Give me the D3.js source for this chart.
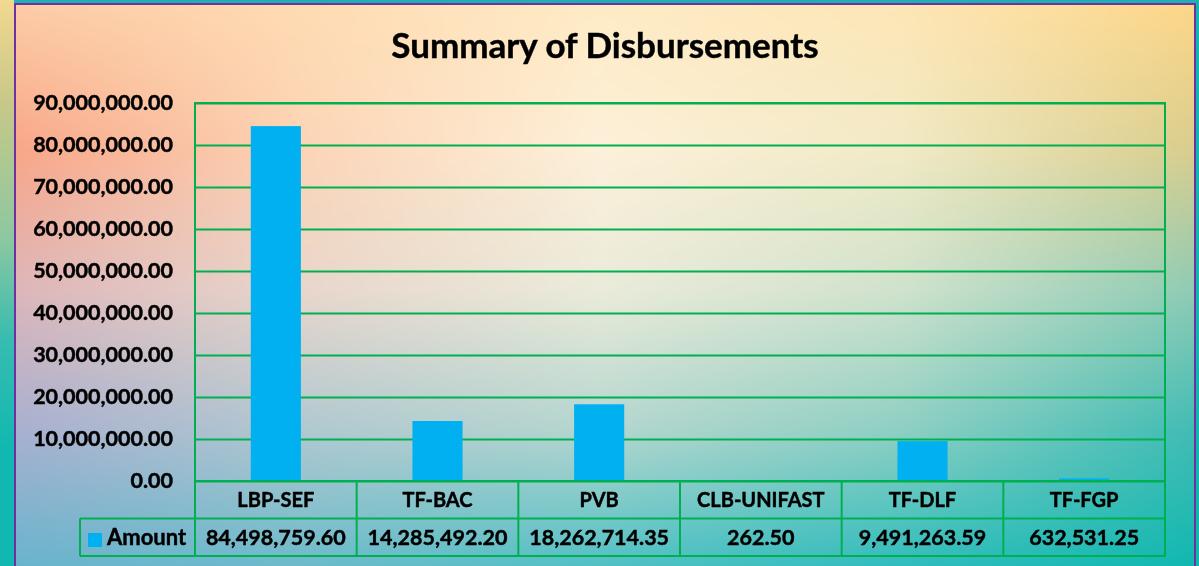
<!DOCTYPE html>
<html>
<head>
<meta charset="utf-8">
<script src="https://cdn.jsdelivr.net/npm/d3@7"></script>
<style>
  body { margin: 0; overflow: hidden; }
  #wrap { position: relative; width: 1199px; height: 566px; }
  #bg, #chart svg { position: absolute; left: 0; top: 0; }
  #chart text { stroke: #000; stroke-width: 0.45px; }
</style>
</head>
<body>
<div id="wrap">
  <canvas id="bg" width="1199" height="566"></canvas>
  <div id="chart"></div>
</div>
<script>
///////////////
// data      //
///////////////

const categories = ["LBP-SEF", "TF-BAC", "PVB", "CLB-UNIFAST", "TF-DLF", "TF-FGP"];
const amounts = [84498759.60, 14285492.20, 18262714.35, 262.50, 9491263.59, 632531.25];
const seriesName = "Amount";
const chartTitle = "Summary of Disbursements";
const yTickValues = [0, 10000000, 20000000, 30000000, 40000000, 50000000, 60000000, 70000000, 80000000, 90000000];

///////////////
// constants //
///////////////

const chartWidth = 1199;
const chartHeight = 566;

const plotLeft = 195;
const plotRight = 1165;
const plotTop = 103;
const plotBottom = 481;
const rowHeight = 37.5;
const legendLeft = 80;

const green = "#00B050";
const barColor = "#00B0F0";
const purple = "#7030A0";
const fontFamily = "Lato, 'Open Sans', sans-serif";

const fmt = d3.format(",.2f");

var xScale = d3.scaleBand()
             .domain(categories)
             .range([plotLeft, plotRight])
             .padding(0);

var yScale = d3.scaleLinear()
             .domain([0, 90000000])
             .range([plotBottom, plotTop]);

const barWidth = xScale.bandwidth() * 0.31;

////////////////
// draw image //
////////////////

drawBackground();

var svg = d3.select("#chart").append("svg")
            .attr("width", chartWidth)
            .attr("height", chartHeight);

// chart frame
svg.append("rect")
    .attr("x", 15).attr("y", 4)
    .attr("width", 1180).attr("height", 620)
    .attr("fill", "none")
    .attr("stroke", purple)
    .attr("stroke-width", 2);

// title
svg.append("text")
    .attr("x", 605).attr("y", 58)
    .attr("text-anchor", "middle")
    .attr("font-family", fontFamily)
    .attr("font-weight", "bold")
    .attr("font-size", 35)
    .attr("fill", "#000")
    .text(chartTitle);

// gridlines
svg.append("g")
    .attr("transform", "translate(" + plotLeft + ",0)")
    .call(d3.axisLeft(yScale).tickValues(yTickValues).tickSize(-(plotRight - plotLeft)).tickFormat(""))
    .call(g => g.select(".domain").remove())
    .selectAll("line")
    .attr("stroke", green)
    .attr("stroke-width", 2);

// y axis labels
svg.append("g")
    .attr("transform", "translate(" + 173 + ",0)")
    .call(d3.axisLeft(yScale).tickValues(yTickValues).tickSize(0).tickPadding(0).tickFormat(fmt))
    .call(g => g.select(".domain").remove())
    .selectAll("text")
    .attr("font-family", fontFamily)
    .attr("font-weight", "bold")
    .attr("font-size", 21.5)
    .attr("fill", "#000");

// bars
svg.append("g")
    .selectAll("rect")
    .data(categories)
    .join("rect")
    .attr("x", d => xScale(d) + (xScale.bandwidth() - barWidth) / 2)
    .attr("y", (d, i) => yScale(amounts[i]))
    .attr("width", barWidth)
    .attr("height", (d, i) => yScale(0) - yScale(amounts[i]))
    .attr("fill", barColor);

// plot border + table lines
var table = svg.append("g")
    .attr("fill", "none")
    .attr("stroke", green)
    .attr("stroke-width", 2);

table.append("rect")
    .attr("x", plotLeft).attr("y", plotTop)
    .attr("width", plotRight - plotLeft)
    .attr("height", plotBottom - plotTop + 2 * rowHeight);

table.append("line")
    .attr("x1", plotLeft).attr("x2", plotRight)
    .attr("y1", plotBottom).attr("y2", plotBottom);

table.append("line")
    .attr("x1", legendLeft).attr("x2", plotRight)
    .attr("y1", plotBottom + rowHeight).attr("y2", plotBottom + rowHeight);

table.append("line")
    .attr("x1", legendLeft).attr("x2", plotLeft)
    .attr("y1", plotBottom + 2 * rowHeight).attr("y2", plotBottom + 2 * rowHeight);

table.append("line")
    .attr("x1", legendLeft).attr("x2", legendLeft)
    .attr("y1", plotBottom + rowHeight).attr("y2", plotBottom + 2 * rowHeight);

table.selectAll(".sep")
    .data(categories.slice(1))
    .join("line")
    .attr("class", "sep")
    .attr("x1", d => xScale(d)).attr("x2", d => xScale(d))
    .attr("y1", plotBottom).attr("y2", plotBottom + 2 * rowHeight);

// category row
svg.append("g")
    .selectAll("text")
    .data(categories)
    .join("text")
    .attr("x", d => xScale(d) + xScale.bandwidth() / 2)
    .attr("y", plotBottom + rowHeight / 2)
    .attr("dy", "0.35em")
    .attr("text-anchor", "middle")
    .attr("font-family", fontFamily)
    .attr("font-weight", "bold")
    .attr("font-size", 20)
    .attr("fill", "#000")
    .text(d => d);

// value row
svg.append("g")
    .selectAll("text")
    .data(categories)
    .join("text")
    .attr("x", d => xScale(d) + xScale.bandwidth() / 2)
    .attr("y", plotBottom + rowHeight * 1.5)
    .attr("dy", "0.35em")
    .attr("text-anchor", "middle")
    .attr("font-family", fontFamily)
    .attr("font-weight", "bold")
    .attr("font-size", 21.5)
    .attr("fill", "#000")
    .text((d, i) => fmt(amounts[i]));

// legend key
svg.append("rect")
    .attr("x", 88).attr("y", 533)
    .attr("width", 14).attr("height", 14)
    .attr("fill", barColor);

svg.append("text")
    .attr("x", 107)
    .attr("y", plotBottom + rowHeight * 1.5)
    .attr("dy", "0.35em")
    .attr("font-family", fontFamily)
    .attr("font-weight", "bold")
    .attr("font-size", 22)
    .attr("fill", "#000")
    .text(seriesName);

///////////////
// functions //
///////////////

function drawBackground() {
    // gradient fill of the chart area, bilinear between a few sampled colours
    var ctx = document.getElementById("bg").getContext("2d");
    var gx = [15, 300, 600, 900, 1195];
    var gy = [4, 150, 290, 430, 566];
    var grid = [
        ["#FCCCA6", "#FEDBB2", "#FEEBC5", "#FDE6B6", "#FDD688"],
        ["#F8A688", "#FCD4B6", "#FDF0DA", "#F1EAC6", "#D8CD8C"],
        ["#DDB6BA", "#E8D6CC", "#EAEBDA", "#CFE2CC", "#8ECBB4"],
        ["#A8B0D0", "#B0C8D0", "#B4D6CF", "#8ECFC3", "#40BCB4"],
        ["#68B4CC", "#6CBACB", "#50C0C4", "#30BCBC", "#10B8B0"]
    ].map(row => row.map(c => d3.rgb(c)));

    var img = ctx.createImageData(chartWidth, chartHeight);
    for (var y = 0; y < chartHeight; y++) {
        var j = d3.bisectRight(gy, y) - 1;
        j = Math.max(0, Math.min(gy.length - 2, j));
        var ty = Math.max(0, Math.min(1, (y - gy[j]) / (gy[j + 1] - gy[j])));
        for (var x = 0; x < chartWidth; x++) {
            var i = d3.bisectRight(gx, x) - 1;
            i = Math.max(0, Math.min(gx.length - 2, i));
            var tx = Math.max(0, Math.min(1, (x - gx[i]) / (gx[i + 1] - gx[i])));
            var c00 = grid[j][i], c10 = grid[j][i + 1], c01 = grid[j + 1][i], c11 = grid[j + 1][i + 1];
            var k = (y * chartWidth + x) * 4;
            img.data[k]     = (c00.r * (1 - tx) + c10.r * tx) * (1 - ty) + (c01.r * (1 - tx) + c11.r * tx) * ty;
            img.data[k + 1] = (c00.g * (1 - tx) + c10.g * tx) * (1 - ty) + (c01.g * (1 - tx) + c11.g * tx) * ty;
            img.data[k + 2] = (c00.b * (1 - tx) + c10.b * tx) * (1 - ty) + (c01.b * (1 - tx) + c11.b * tx) * ty;
            img.data[k + 3] = 255;
        }
    }
    ctx.putImageData(img, 0, 0);

    // slide background outside the chart frame
    var side = ctx.createLinearGradient(0, 0, 0, chartHeight);
    side.addColorStop(0, "#F2D890");
    side.addColorStop(0.18, "#C8C888");
    side.addColorStop(0.42, "#8CC8A0");
    side.addColorStop(0.6, "#38BCB0");
    side.addColorStop(0.8, "#10B8B0");
    side.addColorStop(1, "#10B8B0");
    ctx.fillStyle = side;
    ctx.fillRect(0, 0, 14, chartHeight);
    ctx.fillStyle = "#20B0B4";
    ctx.fillRect(14, 0, chartWidth - 14, 3);
    ctx.fillStyle = "#10B8B0";
    ctx.fillRect(1196, 3, 3, chartHeight);
}
</script>
</body>
</html>
